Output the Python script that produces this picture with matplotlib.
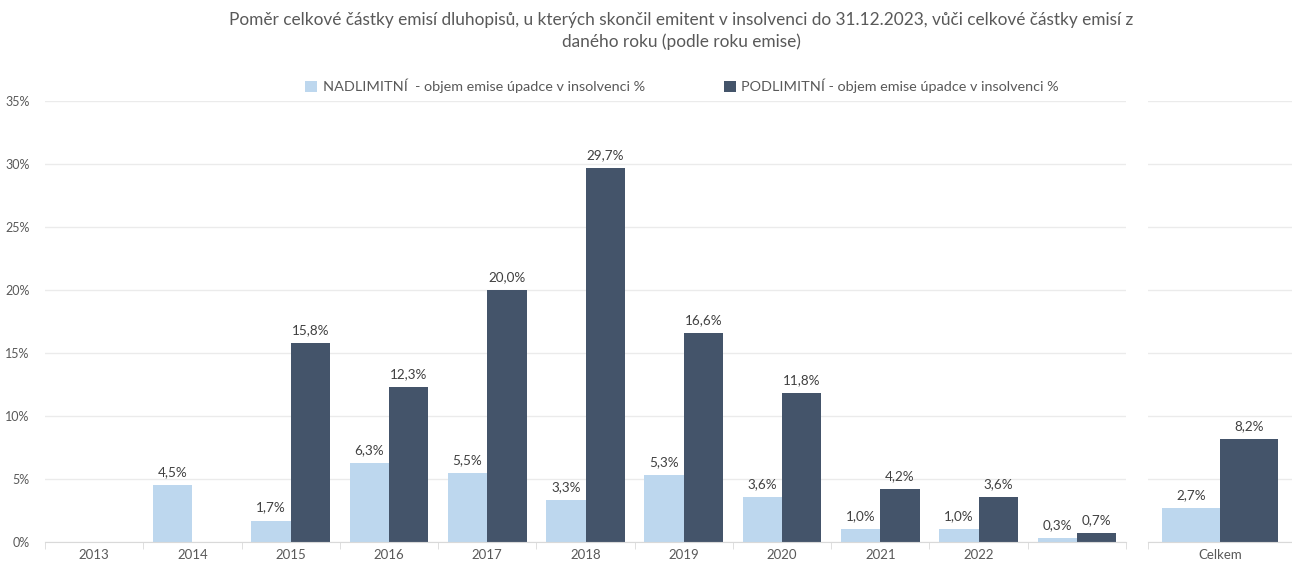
import matplotlib
matplotlib.use("Agg")
import matplotlib.pyplot as plt
import numpy as np

plt.rcParams['font.family'] = ['Lato', 'DejaVu Sans']

years = ["2013", "2014", "2015", "2016", "2017", "2018", "2019", "2020", "2021", "2022", ""]
nad = [np.nan, 4.5, 1.7, 6.3, 5.5, 3.3, 5.3, 3.6, 1.0, 1.0, 0.3]
pod = [np.nan, np.nan, 15.8, 12.3, 20.0, 29.7, 16.6, 11.8, 4.2, 3.6, 0.7]
total_label = ["Celkem"]
nad_total = [2.7]
pod_total = [8.2]
yticks = [0, 5, 10, 15, 20, 25, 30, 35]

series_names = ["NADLIMITNÍ  - objem emise úpadce v insolvenci %",
                "PODLIMITNÍ - objem emise úpadce v insolvenci %"]
title = ("Poměr celkové částky emisí dluhopisů, u kterých skončil emitent v insolvenci do 31.12.2023, vůči celkové částky emisí z\n"
         "daného roku (podle roku emise)")

c_light = "#BDD7EE"
c_dark = "#44546A"
txt = "#404040"
grid_c = "#EBEBEB"
axis_c = "#D9D9D9"

fig = plt.figure(figsize=(12.92, 5.65), dpi=100)
ax = fig.add_axes([45/1292, 23/565, 1081/1292, 441/565])
ax2 = fig.add_axes([1148/1292, 23/565, 144/1292, 441/565])

def fmt(v):
    return f"{v:.1f}".replace(".", ",") + "%"

def draw(a, cats, s1, s2, xlim):
    x = np.arange(len(cats))
    w = 0.4
    b1 = a.bar(x - w/2, s1, w, color=c_light, zorder=2, label=series_names[0])
    b2 = a.bar(x + w/2, s2, w, color=c_dark, zorder=2, label=series_names[1])
    for bars, vals in ((b1, s1), (b2, s2)):
        for rect, v in zip(bars, vals):
            if np.isnan(v):
                continue
            a.annotate(fmt(v), (rect.get_x() + rect.get_width()/2, v),
                       xytext=(0, 5), textcoords="offset points",
                       ha="center", va="bottom", fontsize=9.7, color=txt)
    a.set_ylim(0, 35)
    a.set_xlim(*xlim)
    a.set_yticks(yticks)
    a.yaxis.grid(True, color=grid_c, linewidth=1, zorder=0)
    a.set_axisbelow(True)
    for s in ("top", "right", "left"):
        a.spines[s].set_visible(False)
    a.spines["bottom"].set_color(axis_c)
    a.set_xticks(x)
    a.set_xticklabels(cats, fontsize=9.5, color="#595959")
    a.tick_params(axis="x", length=0, pad=5)
    a.set_xticks(np.arange(len(cats) + 1) - 0.5, minor=True)
    a.tick_params(axis="x", which="minor", length=5, color=axis_c)
    a.tick_params(axis="y", length=0)
    return b1, b2

b1, b2 = draw(ax, years, nad, pod, (-0.5, len(years) - 0.5))
draw(ax2, total_label, nad_total, pod_total, (-0.5, 0.5 * 68 / 76))

ax.set_yticklabels([f"{t}%" for t in yticks], fontsize=9, color="#595959")
ax.tick_params(axis="y", pad=11)
ax2.set_yticklabels([])

fig.text(0.5275, 0.978, title, ha="center", va="top", fontsize=12.4,
         color="#595959", linespacing=1.4)

fig.legend(handles=[b1, b2], loc="center", bbox_to_anchor=(0.528, 0.848),
           ncol=2, frameon=False, fontsize=10.4, labelcolor="#595959",
           handlelength=0.8, handleheight=0.8, handletextpad=0.4, columnspacing=5.5)

fig.savefig("out.png", dpi=100)
